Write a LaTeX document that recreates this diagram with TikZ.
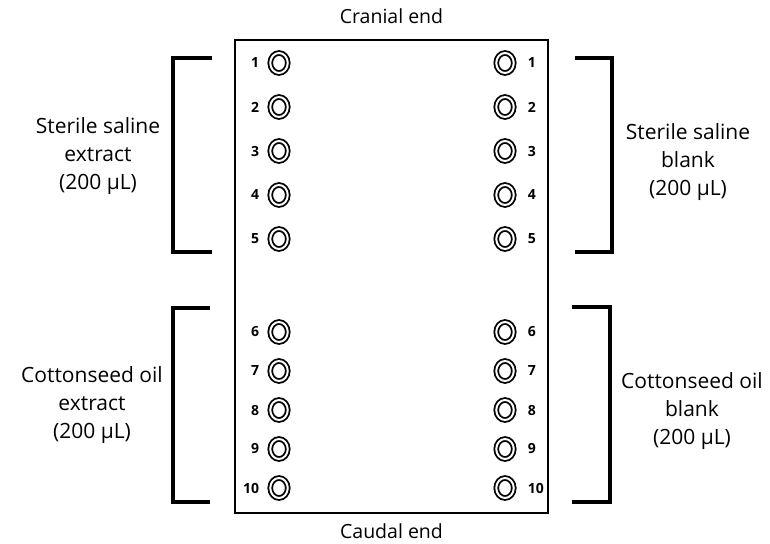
\documentclass[tikz,border=0pt]{standalone}
\usepackage{fontspec}
\setmainfont{Open Sans}
\usetikzlibrary{positioning,shapes.geometric}
\tikzset{
    plate/.style={rectangle, draw, line width=1.5pt, minimum width=313pt,
                  minimum height=473pt, inner sep=0pt},
    well/.style={ellipse, draw, line width=1.8pt, double=white,
                 double distance=2pt, minimum width=17.5pt, minimum height=20pt,
                 inner sep=0pt},
    wellnum/.style={font=\fontsize{14}{16}\selectfont\bfseries, inner sep=1pt},
    bracketline/.style={line width=4pt, line join=miter},
    sidelbl/.style={font=\fontsize{21}{28}\selectfont, align=center},
    endlbl/.style={font=\fontsize{19.5}{22}\selectfont, inner sep=0pt},
}

\begin{document}
\begin{tikzpicture}[x=1pt, y=-1pt, node distance=9pt]
    \useasboundingbox (0,0) rectangle (770,543);

    \node[plate] (plate) at (391.5,276.5) {};
    \node[endlbl, above=15pt of plate] (cranial) {Cranial end};
    \node[endlbl, below=10pt of plate] (caudal) {Caudal end};

    % wells, numbered on the outer side
    \foreach \i/\y in {1/63,2/107,3/151,4/195,5/239,6/332,7/371,8/410,9/449,10/488} {
        \node[well] (wl\i) at (279,\y) {};
        \node[wellnum, left=of wl\i] (nl\i) {\i};
        \node[well] (wr\i) at (505,\y) {};
        \node[wellnum, right=12pt of wr\i] (nr\i) {\i};
    }

    % brackets
    \draw[bracketline] (212,58) -- (173,58) -- (173,252) -- (212,252);
    \draw[bracketline] (210,308) -- (173,308) -- (173,502) -- (210,502);
    \draw[bracketline] (575,58) -- (612,58) -- (612,252) -- (575,252);
    \draw[bracketline] (572,307) -- (610,307) -- (610,502) -- (572,502);

    \node[sidelbl] (salext) at (98,156) {Sterile saline\\extract\\(200 μL)};
    \node[sidelbl] (oilext) at (92,405) {Cottonseed oil\\extract\\(200 μL)};
    \node[sidelbl] (salblk) at (688,162) {Sterile saline\\blank\\(200 μL)};
    \node[sidelbl] (oilblk) at (692,411) {Cottonseed oil\\blank\\(200 μL)};
\end{tikzpicture}
\end{document}
